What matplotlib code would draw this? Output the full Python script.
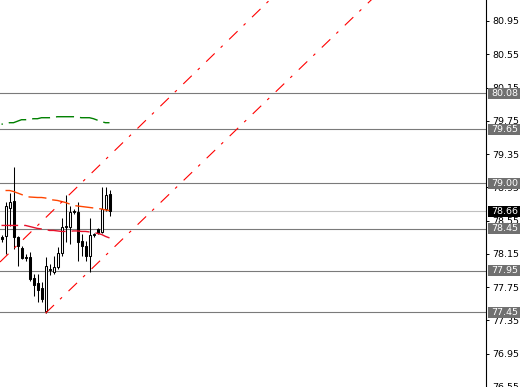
import matplotlib.pyplot as plt
import matplotlib as mpl
import numpy as np
from matplotlib.patches import Rectangle

mpl.rcParams["lines.scale_dashes"] = False
mpl.rcParams["font.family"] = ["DejaVu Sans"]

# candles, oldest first
opens = [78.354, 78.36, 78.696, 78.78, 78.348, 78.216, 78.108, 78.108, 77.856, 77.796,
         77.737, 77.461, 77.952, 77.928, 77.988, 78.156, 78.468, 78.468, 78.66, 78.648,
         78.30, 78.24, 78.12, 78.372, 78.444, 78.408, 78.684, 78.864]
highs = [78.372, 78.768, 78.888, 79.199, 78.36, 78.24, 78.144, 78.168, 77.904, 77.904,
         77.808, 78.108, 78.024, 78.12, 78.228, 78.576, 78.852, 78.72, 78.684, 78.768,
         78.384, 78.30, 78.576, 78.396, 78.456, 78.96, 78.96, 78.924]
lows = [78.288, 78.144, 78.48, 78.204, 78.00, 78.084, 78.06, 77.82, 77.641, 77.569,
        77.569, 77.437, 77.892, 77.904, 77.964, 78.12, 78.288, 78.264, 78.624, 78.06,
        78.12, 78.06, 77.928, 78.348, 78.384, 78.396, 78.66, 78.60]
closes = [78.324, 78.72, 78.768, 78.348, 78.24, 78.096, 78.10, 77.844, 77.772, 77.713,
          77.605, 78.00, 77.964, 77.988, 78.156, 78.468, 78.48, 78.648, 78.648, 78.288,
          78.24, 78.12, 78.372, 78.384, 78.396, 78.684, 78.852, 78.66]

# dashed indicator lines
orange_x = list(range(1, 28))
orange_y = [78.912, 78.912, 78.900, 78.882, 78.864, 78.846, 78.834, 78.831, 78.828, 78.828,
            78.822, 78.804, 78.798, 78.792, 78.780, 78.768, 78.750, 78.732, 78.726, 78.720,
            78.714, 78.708, 78.702, 78.696, 78.690, 78.678, 78.672]
red_x = list(range(0, 28))
red_y = [78.492, 78.492, 78.492, 78.492, 78.492, 78.492, 78.492, 78.480, 78.468, 78.456,
         78.450, 78.444, 78.432, 78.432, 78.426, 78.420, 78.420, 78.420, 78.426, 78.426,
         78.420, 78.420, 78.414, 78.408, 78.396, 78.384, 78.360, 78.342]
green_x = list(range(0, 28))
green_y = [79.709, 79.715, 79.727, 79.727, 79.745, 79.763, 79.763, 79.769, 79.775, 79.775,
           79.787, 79.787, 79.787, 79.793, 79.799, 79.799, 79.799, 79.799, 79.799, 79.793,
           79.787, 79.787, 79.787, 79.775, 79.757, 79.739, 79.727, 79.727]

# trend lines (two anchor points each, bar index / price)
trend_a = [(0, 78.07), (60, 80.873)]
trend_b = [(11, 77.437), (80, 80.628)]

levels = [80.08, 79.65, 79.00, 78.45, 77.95, 77.45]
bid = 78.66
ticks = [80.95, 80.55, 80.15, 79.75, 79.35, 78.95, 78.55, 78.15, 77.75, 77.35, 76.95, 76.55]

W, H = 520, 387
fig = plt.figure(figsize=(W / 100, H / 100), dpi=100)
plot_w = 486
ax = fig.add_axes([0, 0, plot_w / W, 1])

x0 = -0.375
ax.set_xlim(x0, x0 + plot_w / 4)
ax.set_ylim(76.562, 81.202)

for s in ["left", "top", "bottom"]:
    ax.spines[s].set_visible(False)
ax.spines["right"].set_linewidth(0.8)
ax.set_xticks([])
ax.yaxis.tick_right()
ax.set_yticks(ticks)
ax.set_yticklabels([f"{t:.2f}" for t in ticks])
ax.tick_params(axis="y", direction="out", length=2.5, width=0.7, pad=2,
               labelsize=6.8, colors="black")

# horizontal levels
for lv in levels:
    ax.axhline(lv, color="#7a7a7a", lw=0.8, zorder=1)
ax.axhline(bid, color="#c0c0c0", lw=0.8, zorder=1)

# candles
xs = np.arange(len(opens))
for i in xs:
    o, h, l, c = opens[i], highs[i], lows[i], closes[i]
    ax.vlines(i, l, h, color="black", lw=0.75, zorder=3)
    up = c >= o
    ax.bar(i, abs(c - o) if abs(c - o) > 0.004 else 0.004, bottom=min(o, c), width=0.5,
           facecolor="white" if up else "black", edgecolor="black", lw=0.75, zorder=4)

# indicator lines
ax.plot(orange_x, orange_y, color="#ff4500", lw=1.0, ls=(0, (13, 4.3)), zorder=5)
ax.plot(red_x, red_y, color="#e8102a", lw=1.0, ls=(1, (13, 4.3)), zorder=5)
ax.plot(green_x, green_y, color="#008000", lw=1.0, ls=(12, (13, 4.3)), zorder=5)

# trend lines
dashdot = (0, (8.5, 6, 2, 6.5))
xmax = x0 + plot_w / 4
(ax1, ay1), (ax2, ay2) = trend_a
sa = (ay2 - ay1) / (ax2 - ax1)
ax.plot([x0, xmax], [ay1 + sa * (x0 - ax1), ay1 + sa * (xmax - ax1)],
        color="red", lw=0.8, ls=dashdot, zorder=5)
(bx1, by1), (bx2, by2) = trend_b
sb = (by2 - by1) / (bx2 - bx1)
ax.plot([bx1, xmax], [by1, by1 + sb * (xmax - bx1)],
        color="red", lw=0.8, ls=dashdot, zorder=5)

# price labels on the axis
ytr = ax.get_yaxis_transform()
bx = 488 / plot_w
bw = 32 / plot_w
bh = 11 / (H / (81.202 - 76.562))


def price_box(p, fc):
    ax.add_patch(Rectangle((bx, p - bh / 2), bw, bh, transform=ytr, facecolor=fc,
                           edgecolor="none", clip_on=False, zorder=10))
    ax.text(491 / plot_w, p, f"{p:.2f}", transform=ytr, color="white", fontsize=6.8,
            ha="left", va="center", clip_on=False, zorder=11)


for lv in levels:
    price_box(lv, "#707070")
price_box(bid, "black")

fig.savefig("out.png", dpi=100)
